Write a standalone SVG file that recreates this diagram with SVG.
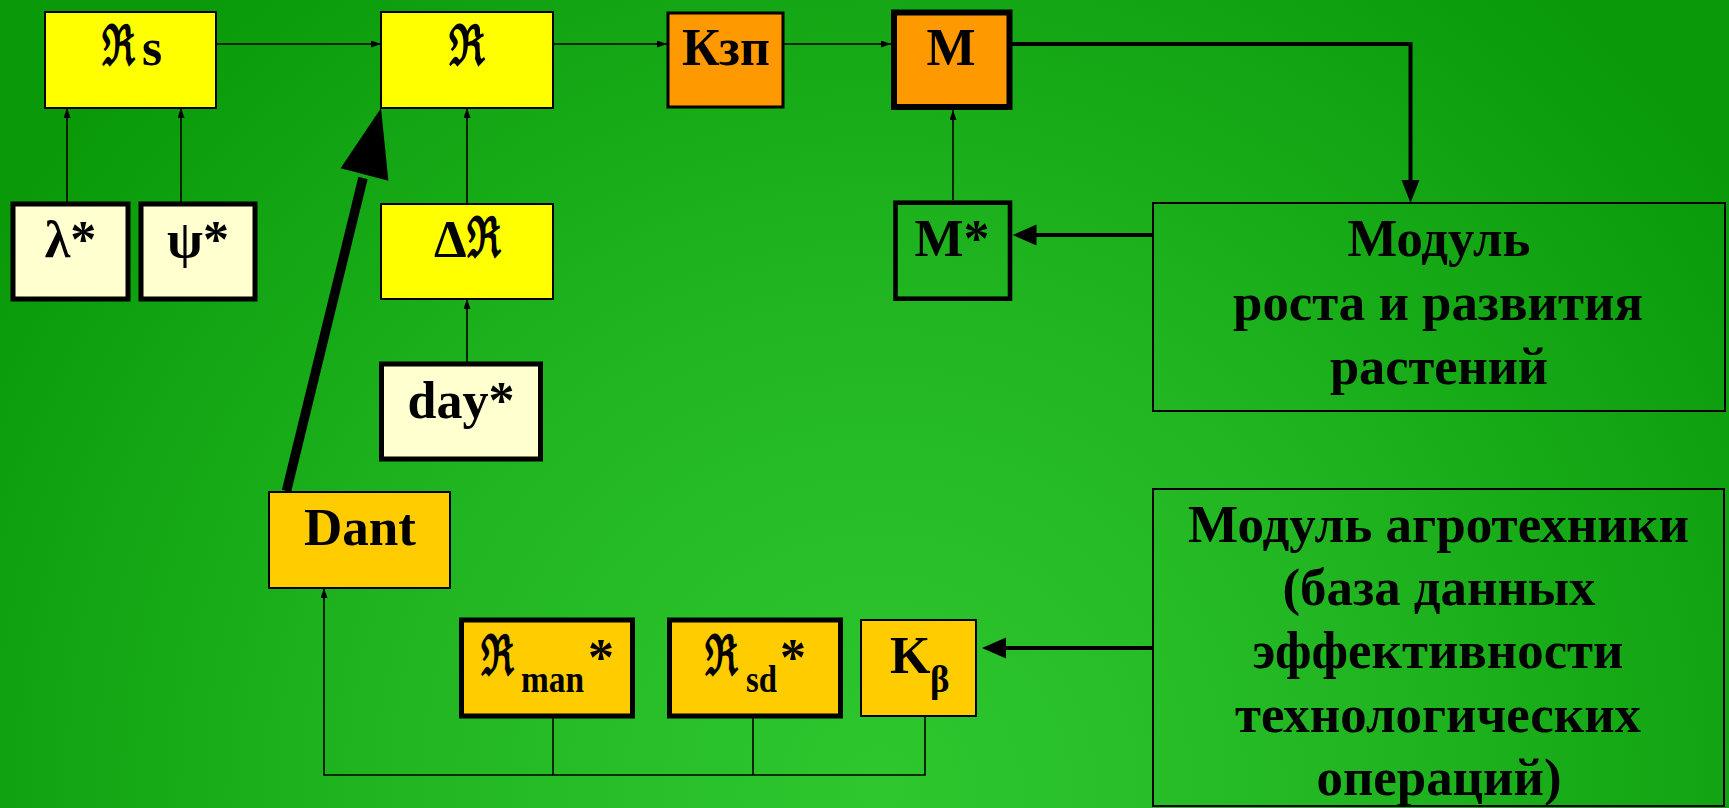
<svg xmlns="http://www.w3.org/2000/svg" width="1729" height="808" viewBox="0 0 1729 808">
<style>
text{font-family:"Liberation Serif","DejaVu Serif",serif;font-weight:bold;fill:#000;text-anchor:middle}
.t{font-size:52px}
.fr{font-size:56px}
.sub{font-size:37px}
.big{font-size:53px}
.st{text-anchor:start}
.thin{fill:none;stroke:#000;stroke-width:1.6}
.thick{fill:none;stroke:#000;stroke-width:4}
.yel{fill:#ffff00;stroke:#000;stroke-width:2}
.cream{fill:#ffffd0;stroke:#000;stroke-width:5}
.or{fill:#ff9900;stroke:#000}
.gold{fill:#ffcc00;stroke:#000}
.grn{fill:none;stroke:#000}
</style>
<defs>
<radialGradient id="bg" gradientUnits="userSpaceOnUse" cx="880" cy="790" r="1050">
<stop offset="0" stop-color="#2ec72e"/>
<stop offset="0.45" stop-color="#22b722"/>
<stop offset="1" stop-color="#099909"/>
</radialGradient>
<marker id="a" markerUnits="userSpaceOnUse" markerWidth="10" markerHeight="7" refX="10" refY="3.5" orient="auto">
<path d="M0,0 L10,3.5 L0,7 z" fill="#000"/>
</marker>
</defs>
<rect x="0" y="0" width="1729" height="808" fill="url(#bg)"/>

<g id="connectors">
<line class="thin" x1="67" y1="202" x2="67" y2="108" marker-end="url(#a)"/>
<line class="thin" x1="181" y1="202" x2="181" y2="108" marker-end="url(#a)"/>
<line class="thin" x1="216" y1="44" x2="381" y2="44" marker-end="url(#a)"/>
<line class="thin" x1="467" y1="204" x2="467" y2="108" marker-end="url(#a)"/>
<line class="thin" x1="467" y1="362" x2="467" y2="299" marker-end="url(#a)"/>
<line class="thin" x1="553" y1="44" x2="667" y2="44" marker-end="url(#a)"/>
<line class="thin" x1="784" y1="44" x2="891" y2="44" marker-end="url(#a)"/>
<line class="thin" x1="953" y1="200" x2="953" y2="110" marker-end="url(#a)"/>
<line x1="286.5" y1="491" x2="363" y2="178" stroke="#000" stroke-width="9.5"/>
<polygon points="381,108 340.6,168.3 388.4,180.7" fill="#000"/>
<path class="thick" d="M1012,44 H1410.5 V185"/>
<polygon points="1401.5,180 1419.5,180 1410.5,203" fill="#000"/>
<line class="thick" x1="1153" y1="235" x2="1034" y2="235"/>
<polygon points="1012.6,235 1036.5,224.5 1036.5,245.5" fill="#000"/>
<line class="thick" x1="1153" y1="648" x2="1003" y2="648"/>
<polygon points="982,648 1006,637.5 1006,658.5" fill="#000"/>
<path class="thin" d="M553,718 V775 M753,718 V775 M925,716 V775 H324 V588" marker-end="url(#a)"/>
</g>

<g id="node-Rs">
<rect class="yel" x="45" y="12" width="171" height="96"/>
<text class="t st"><tspan class="fr" x="102" y="65" textLength="33" lengthAdjust="spacingAndGlyphs">ℜ</tspan><tspan x="142" y="65">s</tspan></text>
</g>
<g id="node-R">
<rect class="yel" x="381" y="12" width="172" height="96"/>
<text class="fr st" x="448.5" y="65" textLength="36" lengthAdjust="spacingAndGlyphs">ℜ</text>
</g>
<g id="node-lambda">
<rect class="cream" x="13" y="204" width="115" height="95"/>
<text class="t" x="70.5" y="257">λ*</text>
</g>
<g id="node-psi">
<rect class="cream" x="141" y="204" width="114" height="95"/>
<text class="t" x="198" y="257">ψ*</text>
</g>
<g id="node-dR">
<rect class="yel" x="381" y="204" width="172" height="95"/>
<text class="t st"><tspan x="434" y="257">Δ</tspan><tspan class="fr" x="467" y="257" textLength="34" lengthAdjust="spacingAndGlyphs">ℜ</tspan></text>
</g>
<g id="node-day">
<rect class="cream" x="381.5" y="364" width="159" height="95"/>
<text class="t" x="461" y="418">day*</text>
</g>
<g id="node-Kzp">
<rect class="or" stroke-width="3" x="668" y="13" width="115" height="94"/>
<text class="t" x="726" y="65">Кзп</text>
</g>
<g id="node-M">
<rect class="or" stroke-width="6" x="894" y="12.5" width="115.5" height="94.5"/>
<text class="t" x="951" y="65">М</text>
</g>
<g id="node-Mstar">
<rect class="grn" stroke-width="4.6" x="895.5" y="202.7" width="114.5" height="96"/>
<text class="t" x="952" y="256">М*</text>
</g>
<g id="node-growth">
<rect class="grn" stroke-width="2" x="1153" y="203" width="572" height="208"/>
<text class="big" x="1439" y="256" textLength="183" lengthAdjust="spacingAndGlyphs">Модуль</text>
<text class="big" x="1438" y="319.5" textLength="410" lengthAdjust="spacingAndGlyphs">роста и развития</text>
<text class="big" x="1439" y="383.5" textLength="218" lengthAdjust="spacingAndGlyphs">растений</text>
</g>
<g id="node-Dant">
<rect class="gold" stroke-width="2" x="269" y="492" width="181" height="96"/>
<text class="t" x="360" y="545" textLength="112" lengthAdjust="spacingAndGlyphs">Dant</text>
</g>
<g id="node-Rman">
<rect class="gold" stroke-width="5" x="461.5" y="620" width="171" height="96"/>
<text class="t st"><tspan class="fr" x="481" y="675" textLength="33" lengthAdjust="spacingAndGlyphs">ℜ</tspan><tspan class="sub" x="521" y="692" textLength="63" lengthAdjust="spacingAndGlyphs">man</tspan><tspan x="588" y="675">*</tspan></text>
</g>
<g id="node-Rsd">
<rect class="gold" stroke-width="5" x="669.5" y="620" width="171" height="96"/>
<text class="t st"><tspan class="fr" x="705" y="675" textLength="33" lengthAdjust="spacingAndGlyphs">ℜ</tspan><tspan class="sub" x="746" y="692" textLength="31" lengthAdjust="spacingAndGlyphs">sd</tspan><tspan x="780" y="675">*</tspan></text>
</g>
<g id="node-Kb">
<rect class="gold" stroke-width="2" x="861" y="620" width="115" height="96"/>
<text class="t st"><tspan x="890" y="673">K</tspan><tspan class="sub" x="930" y="692">β</tspan></text>
</g>
<g id="node-agro">
<rect class="grn" stroke-width="2" x="1153" y="489" width="571" height="317"/>
<text class="big" x="1438.5" y="542" textLength="501" lengthAdjust="spacingAndGlyphs">Модуль агротехники</text>
<text class="big" x="1439" y="605" textLength="313" lengthAdjust="spacingAndGlyphs">(база данных</text>
<text class="big" x="1438" y="668" textLength="371" lengthAdjust="spacingAndGlyphs">эффективности</text>
<text class="big" x="1438" y="731.5" textLength="406" lengthAdjust="spacingAndGlyphs">технологических</text>
<text class="big" x="1439" y="795" textLength="245" lengthAdjust="spacingAndGlyphs">операций)</text>
</g>
</svg>
